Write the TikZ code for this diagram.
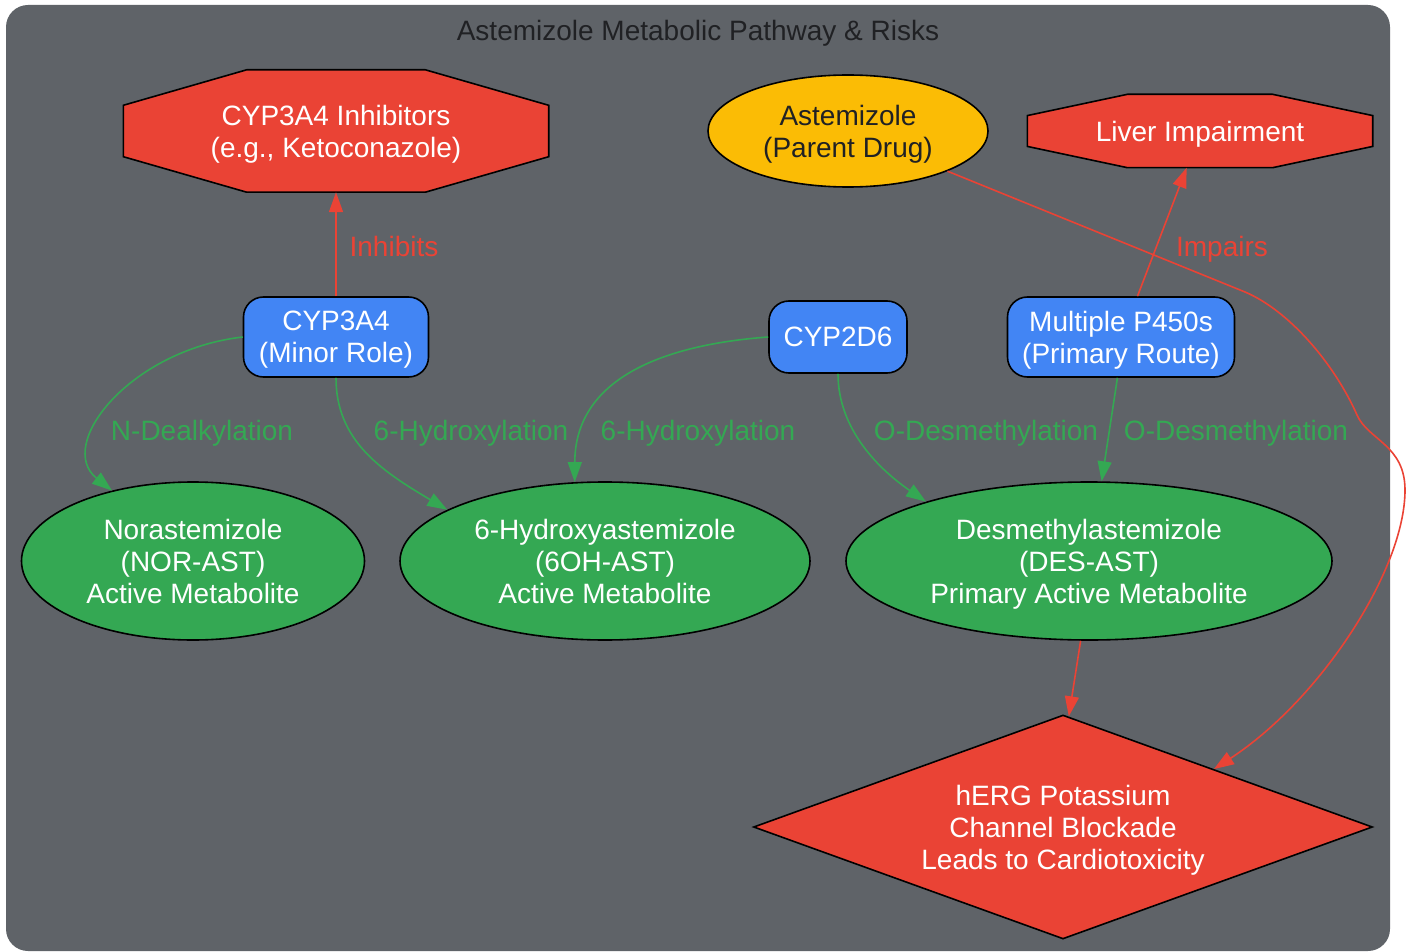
\documentclass[tikz,border=0pt]{standalone}
\usepackage{fontspec}
\setmainfont{Liberation Sans}
\usetikzlibrary{arrows.meta,positioning,shapes.geometric,calc,backgrounds}
\definecolor{bggray}{HTML}{5F6368}
\definecolor{drugyellow}{HTML}{FBBC05}
\definecolor{enzblue}{HTML}{4285F4}
\definecolor{metgreen}{HTML}{34A853}
\definecolor{riskred}{HTML}{EA4335}
\definecolor{titlegray}{HTML}{202124}

% octagon drawn round a named box node
\newcommand{\drawoct}[1]{%
  \draw[fill=riskred, line width=1.6pt, line join=miter]
    ($(#1.north west)!.29!(#1.north east)$) -- ($(#1.north east)!.29!(#1.north west)$)
    -- ($(#1.north east)!.29!(#1.south east)$) -- ($(#1.south east)!.29!(#1.north east)$)
    -- ($(#1.south east)!.29!(#1.south west)$) -- ($(#1.south west)!.29!(#1.south east)$)
    -- ($(#1.south west)!.29!(#1.north west)$) -- ($(#1.north west)!.29!(#1.south west)$) -- cycle;}

\begin{document}
\begin{tikzpicture}[x=1pt,y=-1pt,
  every node/.style={font=\fontsize{28}{32}\selectfont, align=center, text depth=-3pt},
  enzyme/.style={rectangle, rounded corners=20pt, draw=black, line width=1.6pt, fill=enzblue, text=white, inner sep=0pt},
  metab/.style={ellipse, draw=black, line width=1.6pt, fill=metgreen, text=white, inner sep=0pt},
  octbox/.style={rectangle, draw=none, text=white, inner sep=0pt},
  greenlink/.style={draw=metgreen, line width=1.6pt, -{Triangle[length=20pt,width=14pt]}},
  redlink/.style={draw=riskred, line width=1.6pt, -{Triangle[length=20pt,width=14pt]}},
  greenlbl/.style={text=metgreen},
  redlbl/.style={text=riskred}]
	\useasboundingbox (0,0) rectangle (1406,952);
	\begin{scope}[on background layer]
		\fill[bggray, rounded corners=22pt] (6,5) rectangle (1390,951);
	\end{scope}
	\node[text=titlegray] (title) at (698,30) {Astemizole Metabolic Pathway \& Risks};

	\node[octbox, minimum width=425pt, minimum height=122pt] (inhib) at (336,131) {CYP3A4 Inhibitors\\(e.g., Ketoconazole)};
	\node[octbox, minimum width=345pt, minimum height=73pt] (liver) at (1200,131) {Liver Impairment};
	\begin{scope}[on background layer]
		\drawoct{inhib}
		\drawoct{liver}
	\end{scope}
	\node[ellipse, draw=black, line width=1.6pt, fill=drugyellow, text=titlegray, inner sep=0pt,
	      minimum width=280pt, minimum height=112pt] (aste) at (848,131) {Astemizole\\(Parent Drug)};

	\node[enzyme, minimum width=185pt, minimum height=80pt] (cypa) at (336,337) {CYP3A4\\(Minor Role)};
	\node[enzyme, minimum width=138pt, minimum height=72pt] (cypd) at (838,337) {CYP2D6};
	\node[enzyme, minimum width=227pt, minimum height=80pt] (multi) at (1121,337) {Multiple P450s\\(Primary Route)};

	\node[metab, minimum width=343pt, minimum height=158pt] (nor) at (193,561) {Norastemizole\\(NOR-AST)\\Active Metabolite};
	\node[metab, minimum width=410pt, minimum height=158pt] (hyd) at (605,561) {6-Hydroxyastemizole\\(6OH-AST)\\Active Metabolite};
	\node[metab, minimum width=486pt, minimum height=158pt] (des) at (1089,561) {Desmethylastemizole\\(DES-AST)\\Primary Active Metabolite};

	\node[diamond, draw=black, line width=1.6pt, fill=riskred, text=white, inner sep=0pt, aspect=2.76,
	      minimum width=619pt, minimum height=224pt] (herg) at (1063,827) {hERG Potassium\\Channel Blockade\\Leads to Cardiotoxicity};

	% risk edges
	\draw[redlink] (cypa.north) -- (inhib.south);
	\draw[redlink] (multi.68) -- (liver.250);
	\draw[redlink] (des.264) -- (herg.87);
	\draw[redlink] (aste.338) -- (1245,292) .. controls (1290,311) and (1335,365) .. (1357,415)
		.. controls (1368,440) and (1405,445) .. (1405,490)
		.. controls (1405,570) and (1320,700) .. (herg.21.6);
	\node[redlbl] (lblinhib) at (394,246) {Inhibits};
	\node[redlbl] (lblimp) at (1222,246) {Impairs};

	% metabolic edges
	\draw[greenlink] (cypa.west) .. controls (130,350) and (55,445) .. (nor.139.5);
	\draw[greenlink] (cypa.south) .. controls (336,440) and (380,470) .. (hyd.162);
	\draw[greenlink] (cypd.west) .. controls (660,345) and (575,380) .. (hyd.111);
	\draw[greenlink] (cypd.south) .. controls (838,430) and (880,470) .. (des.160);
	\draw[greenlink] (multi.-95) -- (des.81);
	\node[greenlbl] (lblnd) at (202,430) {N-Dealkylation};
	\node[greenlbl] (lblha) at (471,430) {6-Hydroxylation};
	\node[greenlbl] (lblhb) at (698,430) {6-Hydroxylation};
	\node[greenlbl] (lblda) at (986,430) {O-Desmethylation};
	\node[greenlbl] (lbldb) at (1236,430) {O-Desmethylation};
\end{tikzpicture}
\end{document}
